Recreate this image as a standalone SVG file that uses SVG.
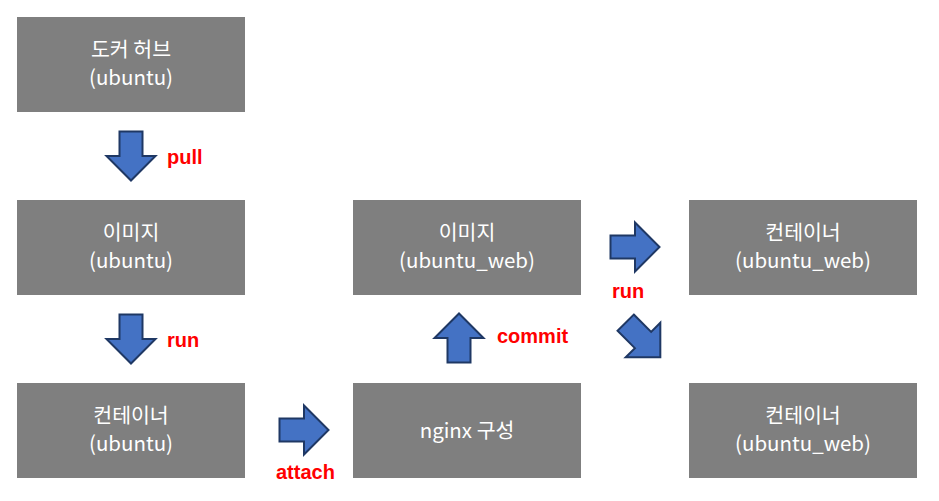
<svg xmlns="http://www.w3.org/2000/svg" width="939" height="501" viewBox="0 0 939 501">
<defs>
<style>
.box{fill:#7f7f7f;}
.t{fill:#ffffff;font-family:"Malgun Gothic","Noto Sans CJK KR","Noto Sans",sans-serif;font-size:20.5px;text-anchor:middle;}
.arr{fill:#4472c4;stroke:#1f3864;stroke-width:2;stroke-linejoin:miter;}
.lbl{fill:#ff0000;font-family:"Liberation Sans",Arial,sans-serif;font-size:20px;font-weight:bold;}
</style>
<path id="ar" d="M-24.5,-11.5 H0 V-24.5 L24.5,0 L0,24.5 V11.5 H-24.5 Z"/>
</defs>
<rect width="939" height="501" fill="#ffffff"/>
<g id="hub"><rect class="box" x="17" y="17" width="228" height="95"/><text class="t" x="131" y="57">도커 허브</text><text class="t" x="131" y="85">(ubuntu)</text></g>
<g id="image1"><rect class="box" x="17" y="200" width="228" height="95"/><text class="t" x="131" y="240">이미지</text><text class="t" x="131" y="268">(ubuntu)</text></g>
<g id="container1"><rect class="box" x="17" y="383" width="228" height="95"/><text class="t" x="131" y="423">컨테이너</text><text class="t" x="131" y="451">(ubuntu)</text></g>
<g id="nginx"><rect class="box" x="353" y="383" width="228" height="95"/><text class="t" x="467" y="438">nginx 구성</text></g>
<g id="image2"><rect class="box" x="353" y="200" width="228" height="95"/><text class="t" x="467" y="240">이미지</text><text class="t" x="467" y="268">(ubuntu_web)</text></g>
<g id="container2"><rect class="box" x="689" y="200" width="228" height="95"/><text class="t" x="803" y="240">컨테이너</text><text class="t" x="803" y="268">(ubuntu_web)</text></g>
<g id="container3"><rect class="box" x="689" y="383" width="228" height="95"/><text class="t" x="803" y="423">컨테이너</text><text class="t" x="803" y="451">(ubuntu_web)</text></g>
<g id="connectors">
<use href="#ar" class="arr" transform="translate(131,156) rotate(90)"/>
<text class="lbl" x="167" y="164">pull</text>
<use href="#ar" class="arr" transform="translate(131,339) rotate(90)"/>
<text class="lbl" x="167" y="347">run</text>
<use href="#ar" class="arr" transform="translate(304,430)"/>
<text class="lbl" x="276" y="479">attach</text>
<use href="#ar" class="arr" transform="translate(459,338) rotate(-90)"/>
<text class="lbl" x="497" y="343">commit</text>
<use href="#ar" class="arr" transform="translate(635,247)"/>
<text class="lbl" x="612" y="298">run</text>
<use href="#ar" class="arr" transform="translate(643,340) rotate(45)"/>
</g>
</svg>
